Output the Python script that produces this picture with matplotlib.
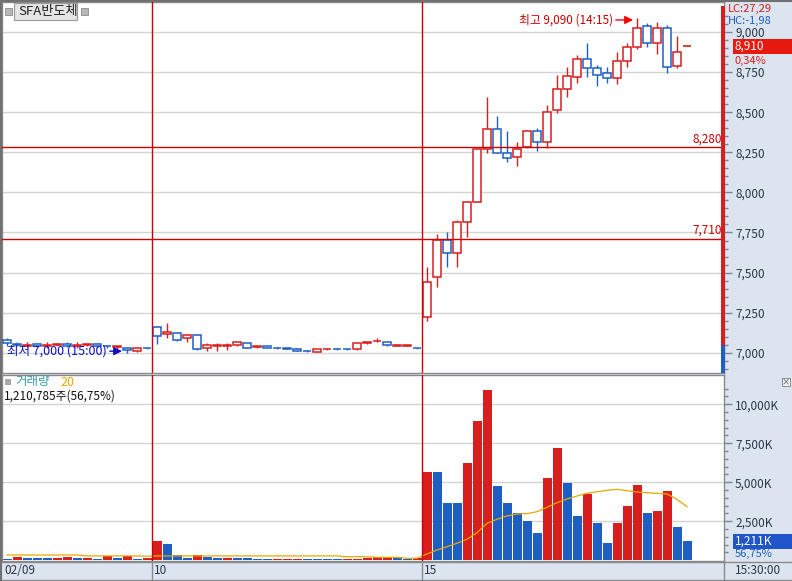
import matplotlib
matplotlib.use("Agg")
import matplotlib.pyplot as plt
from matplotlib.patches import Rectangle
from matplotlib.lines import Line2D

plt.rcParams['font.family'] = ['Noto Sans CJK KR', 'DejaVu Sans']

# ---- data (price in won, volume in K shares) ----
opens = [7080, 7055, 7045, 7055, 7045, 7050, 7055, 7045, 7050, 7055, 7045, 7035, 7030, 7010, 7030,
         7161, 7120, 7124, 7093, 7111, 7030, 7045, 7045, 7050, 7060, 7038, 7040, 7030, 7028, 7026,
         7012, 7008, 7022, 7024, 7024, 7022, 7058, 7072, 7068, 7045, 7045, 7030,
         7223, 7473, 7703, 7622, 7816, 7940, 8270, 8395, 8246, 8220, 8283, 8383, 8314, 8514,
         8645, 8720, 8832, 8776, 8744, 8713, 8819, 8906, 9037, 8931, 9025, 8788, 8910]
highs = [7090, 7070, 7065, 7060, 7070, 7060, 7065, 7070, 7060, 7060, 7050, 7045, 7035, 7035, 7032,
         7165, 7187, 7130, 7115, 7115, 7062, 7062, 7060, 7070, 7062, 7045, 7042, 7035, 7032, 7028,
         7015, 7025, 7030, 7028, 7028, 7062, 7070, 7095, 7070, 7052, 7050, 7032,
         7535, 7741, 7753, 7828, 7945, 8270, 8595, 8476, 8383, 8314, 8390, 8402, 8545, 8732,
         8782, 8857, 8931, 8794, 8782, 8875, 8931, 9090, 9056, 9062, 9044, 8975, 8910]
lows = [7045, 7040, 7035, 7035, 7030, 7040, 7035, 7030, 7040, 7030, 7030, 7025, 7000, 7005, 7025,
        7055, 7093, 7075, 7070, 7020, 7012, 7012, 7020, 7045, 7028, 7030, 7028, 7025, 7022, 7010,
        7005, 7005, 7018, 7018, 7018, 7020, 7055, 7065, 7045, 7040, 7042, 7025,
        7200, 7410, 7535, 7535, 7722, 7940, 8246, 8246, 8190, 8165, 8275, 8258, 8277, 8495,
        8595, 8682, 8720, 8663, 8682, 8676, 8782, 8894, 8906, 8863, 8744, 8776, 8910]
closes = [7062, 7050, 7050, 7045, 7050, 7055, 7045, 7050, 7055, 7045, 7040, 7040, 7020, 7030, 7028,
          7105, 7130, 7080, 7111, 7025, 7050, 7048, 7048, 7068, 7030, 7040, 7030, 7028, 7026, 7012,
          7010, 7022, 7024, 7022, 7022, 7060, 7068, 7074, 7048, 7047, 7047, 7028,
          7441, 7703, 7622, 7816, 7940, 8270, 8395, 8246, 8215, 8270, 8383, 8314, 8501, 8645,
          8726, 8832, 8776, 8732, 8713, 8819, 8906, 9025, 8931, 9025, 8782, 8875, 8910]

volumes = [83, 231, 147, 147, 147, 147, 231, 147, 147, 83, 256, 167, 276, 103, 128,
           1237, 1045, 340, 167, 340, 231, 167, 147, 167, 147, 103, 103, 103, 103, 103,
           103, 103, 103, 103, 103, 103, 147, 186, 231, 167, 83, 147,
           5680, 5680, 3692, 3692, 6256, 8948, 10916, 4763, 3692, 3051, 2538, 1769, 5295, 7218,
           4974, 2859, 4231, 2410, 1128, 2410, 3500, 4827, 3051, 3179, 4461, 2154, 1211]
vol_up = "brbbbrrbrbrbrbr" + "rbbbrbbrbbbbrrrbbbbrrrrrbbr" + "rbbbrrrbbbbbrrbbrbbrrrbrrbb"
vol_ma20 = [340] * 8 + [280] * 6 + [260] + [280] * 19 + [230] * 3 + [190] * 3 + [130] * 2 + \
           [404, 660, 872, 1090, 1346, 1770, 2372, 2628, 2840, 2968, 2990, 3115, 3397, 3692,
            3929, 4122, 4295, 4397, 4487, 4551, 4461, 4378, 4333, 4295, 4250, 3910, 3436]

day_labels = ["02/09", "10", "15"]
day_starts = [0, 15, 42]
ref_lines = [8280, 7710]
price_ticks = [7000, 7250, 7500, 7750, 8000, 8250, 8500, 8750, 9000]
vol_ticks = [2500, 5000, 7500, 10000]

RED = "#d81e1e"
BLUE = "#1f5fc4"
LINE_RED = "#cc0000"
GRID = "#d4d4d4"
BG = "#dbe4ef"
W, H = 792, 581


def fx(px):
    return px / W


def fy(py):
    return 1 - py / H


fig = plt.figure(figsize=(W / 100, H / 100), dpi=100, facecolor=BG)
ax = fig.add_axes([fx(2), fy(373), (724 - 2) / W, (373 - 2) / H])
axv = fig.add_axes([fx(2), fy(561), (724 - 2) / W, (561 - 375) / H])

n = len(opens)
xs = list(range(n))

# ---- candles ----
for i in xs:
    o, h, l, c = opens[i], highs[i], lows[i], closes[i]
    col = RED if c >= o else BLUE
    ax.vlines(i, l, h, color=col, lw=1, zorder=2)
    lo, hi = min(o, c), max(o, c)
    if hi - lo < 1:
        ax.hlines(lo, i - 0.42, i + 0.42, color=col, lw=1.2, zorder=3)
    else:
        ax.add_patch(Rectangle((i - 0.42, lo), 0.84, hi - lo, facecolor="white",
                               edgecolor=col, lw=1.1, zorder=3))

for v in price_ticks:
    ax.axhline(v, color=GRID, lw=1, zorder=0)
for v in ref_lines:
    ax.axhline(v, color=LINE_RED, lw=1, zorder=4)
    ax.text(71.5, v + 12, f"{v:,}", color=LINE_RED, fontsize=8.5, ha="right", va="bottom")
for d in day_starts[1:]:
    ax.axvline(d - 0.5, color=LINE_RED, lw=1, zorder=4)
    axv.axvline(d - 0.5, color=LINE_RED, lw=1, zorder=4)

ax.set_xlim(-0.5, 71.7)
ax.set_ylim(6874, 9187)
axv.set_xlim(-0.5, 71.7)
axv.set_ylim(-45, 11878)

# high / low markers
ih = highs.index(max(highs))
il = lows.index(min(lows))
ax.annotate(f"최고 {max(highs):,} ({'14:15'})", xy=(ih - 0.4, 9075), xytext=(ih - 2.4, 9075),
            color=LINE_RED, fontsize=8.5, ha="right", va="center",
            arrowprops=dict(arrowstyle="-|>", color="red", lw=1, mutation_scale=12, shrinkA=0, shrinkB=0))
ax.annotate(f"최저 {min(lows):,} ({'15:00'})", xy=(il - 0.5, 7010), xytext=(il - 2.0, 7010),
            color="#1010c0", fontsize=9, ha="right", va="center",
            arrowprops=dict(arrowstyle="-|>", color="#1010c0", lw=1, mutation_scale=12, shrinkA=0, shrinkB=0))

# range bar on the right edge
tr = ax.get_yaxis_transform()
ax.add_patch(Rectangle((0.9958, 7049), 0.0055, 9160 - 7049, transform=tr,
                       facecolor=RED, edgecolor="none", clip_on=False, zorder=5))
ax.add_patch(Rectangle((0.9958, 6874), 0.0055, 7049 - 6874, transform=tr,
                       facecolor=BLUE, edgecolor="none", clip_on=False, zorder=5))

# ---- volume ----
vcols = [RED if c == "r" else BLUE for c in vol_up]
axv.bar(xs, volumes, width=0.9, color=vcols, zorder=2)
axv.plot(xs, vol_ma20, color="#e8a800", lw=0.9, zorder=3)
for v in vol_ticks:
    axv.axhline(v, color=GRID, lw=1, zorder=0)

# ---- axes styling ----
for a in (ax, axv):
    a.set_facecolor("white")
    for s in a.spines.values():
        s.set_color("#8a8a8a")
        s.set_linewidth(1)
    a.set_xticks([])
    a.yaxis.tick_right()
    a.tick_params(axis="y", which="major", direction="out", length=6, width=1,
                  color="#7a8796", labelsize=8.5, labelcolor="#2d3845", pad=2)
    a.tick_params(axis="y", which="minor", direction="out", length=3, width=1, color="#7a8796")

ax.set_yticks(price_ticks)
ax.set_yticklabels([f"{v:,}" for v in price_ticks])
ax.set_yticks(range(6900, 9150, 50), minor=True)
axv.set_yticks(vol_ticks)
axv.set_yticklabels([f"{v:,}K" for v in vol_ticks])
axv.set_yticks(range(500, 11500, 500), minor=True)

# current price box
ty = ax.get_yaxis_transform()
ax.add_patch(Rectangle((1.0125, closes[-1] - 45), 0.083, 90, transform=ty,
                       facecolor="#e8190e", edgecolor="none", clip_on=False, zorder=6))
ax.text(1.015, closes[-1], f"{closes[-1]:,}", transform=ty, color="white",
        fontsize=8.5, va="center", ha="left", zorder=7, clip_on=False)
ax.text(1.015, 8850, "0,34%", transform=ty, color=RED, fontsize=8, va="top", ha="left")

tv = axv.get_yaxis_transform()
axv.add_patch(Rectangle((1.0125, volumes[-1] - 460), 0.083, 920, transform=tv,
                        facecolor="#1f55c8", edgecolor="none", clip_on=False, zorder=6))
axv.text(1.015, volumes[-1], f"{volumes[-1]:,}K", transform=tv, color="white",
         fontsize=8.5, va="center", ha="left", zorder=7, clip_on=False)
axv.text(1.015, 740, "56,75%", transform=tv, color=BLUE, fontsize=8, va="top", ha="left")

# ---- labels & decorations in figure coords ----
fig.text(fx(728), fy(8.5), "LC:27,29", color=RED, fontsize=8, va="center")
fig.text(fx(728), fy(20.5), "HC:-1,98", color=BLUE, fontsize=8, va="center")

fig.patches.append(Rectangle((fx(14), fy(20)), 63 / W, 17 / H, transform=fig.transFigure,
                             facecolor="#e4e4e4", edgecolor="#9a9a9a", lw=0.8, zorder=5))
for px in (5, 81):
    fig.patches.append(Rectangle((fx(px), fy(15)), 7 / W, 7 / H, transform=fig.transFigure,
                                 facecolor="#b8b8b8", edgecolor="#8a8a8a", lw=0.6, zorder=5))
fig.text(fx(18), fy(11.5), "SFA반도체", fontsize=9.5, color="#222222", va="center", zorder=6)

fig.patches.append(Rectangle((fx(5), fy(385)), 6 / W, 6 / H, transform=fig.transFigure,
                             facecolor="#a8a8a8", edgecolor="none", zorder=5))
fig.text(fx(15), fy(382), "거래량", fontsize=9, color="#3a9ca0", va="center", zorder=6)
fig.text(fx(60), fy(382), "20", fontsize=9, color="#e6a800", va="center", zorder=6)
fig.text(fx(4), fy(396), "1,210,785주(56,75%)", fontsize=8.5, color="#111111", va="center", zorder=6)

fig.patches.append(Rectangle((fx(782), fy(386)), 8 / W, 8 / H, transform=fig.transFigure,
                             facecolor="#f0f0f0", edgecolor="#808080", lw=0.6, zorder=5))
fig.text(fx(786), fy(382), "×", fontsize=6, ha="center", va="center", color="#444444", zorder=6)

# date strip
fig.lines.append(Line2D([0, 1], [fy(562), fy(562)], transform=fig.transFigure, color="#8a8a8a", lw=1))
fig.lines.append(Line2D([0, 1], [fy(580), fy(580)], transform=fig.transFigure, color="#8a8a8a", lw=1))
fig.lines.append(Line2D([fx(724), fx(724)], [fy(562), fy(580)], transform=fig.transFigure,
                        color="#8a8a8a", lw=1))
for lab, d in zip(day_labels, day_starts):
    px = 2 + 722 * (d - 0.5 + 0.5) / 72.2
    if d > 0:
        fig.lines.append(Line2D([fx(px), fx(px)], [fy(562), fy(580)], transform=fig.transFigure,
                                color="#8a8a8a", lw=1))
    fig.text(fx(px + 2), fy(571), lab, fontsize=8.5, color="#2d3845", va="center")
fig.text(fx(735), fy(571), "15:30:00", fontsize=8.5, color="#2d3845", va="center")

# outer frame
fig.lines.append(Line2D([fx(0.5), fx(0.5)], [0, 1], transform=fig.transFigure, color="#707070", lw=1.5))
fig.lines.append(Line2D([0, 1], [fy(0.5), fy(0.5)], transform=fig.transFigure, color="#707070", lw=1.5))

fig.savefig("out.png", dpi=100, facecolor=BG)
